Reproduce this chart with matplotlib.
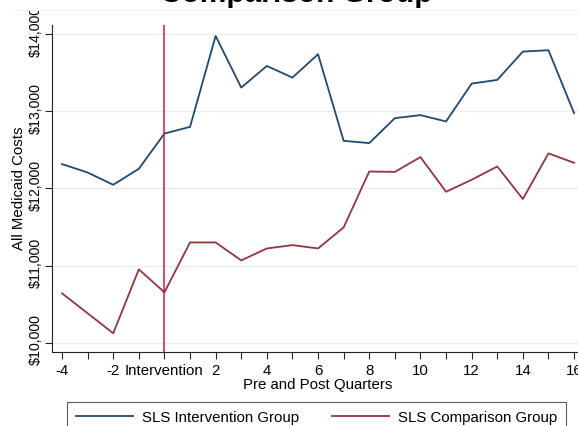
import matplotlib.pyplot as plt
from matplotlib.lines import Line2D
from matplotlib.patches import Rectangle
from matplotlib.transforms import ScaledTranslation

plt.rcParams['font.family'] = ['Liberation Sans', 'DejaVu Sans']

# quarters relative to intervention (0 = intervention quarter)
quarters = list(range(-4, 17))

# average Medicaid costs per quarter
intervention_costs = [12316, 12207, 12048, 12255, 12712, 12799, 13978, 13308,
                      13589, 13438, 13741, 12618, 12588, 12912, 12951, 12869,
                      13360, 13408, 13775, 13793, 12977]
comparison_costs = [10640, 10381, 10122, 10951, 10653, 11300, 11300, 11067,
                    11222, 11265, 11222, 11495, 12220, 12215, 12407, 11957,
                    12113, 12285, 11863, 12455, 12333]

xtick_vals = list(range(-4, 17, 2))
xtick_labels = ["-4", "-2", "Intervention", "2", "4", "6", "8", "10", "12", "14", "16"]
ytick_vals = [10000, 11000, 12000, 13000, 14000]
ytick_labels = ["$10,000", "$11,000", "$12,000", "$13,000", "$14,000"]

W, H = 578, 426
fig = plt.figure(figsize=(W / 100, H / 100), dpi=100)
fig.patch.set_facecolor("white")

# axes box in pixel terms (right side runs past the picture edge)
left_px, right_px, top_px, bottom_px = 52.3, 583.8, 25.0, 351.7
ax = fig.add_axes([left_px / W, 1 - bottom_px / H,
                   (right_px - left_px) / W, (bottom_px - top_px) / H])

navy = "#1f4a73"
maroon = "#93363e"

ax.plot(quarters, intervention_costs, color=navy, lw=1.3,
        label="SLS Intervention Group")
ax.plot(quarters, comparison_costs, color=maroon, lw=1.3,
        label="SLS Comparison Group")
ax.axvline(0, color="#d4173c", lw=1.1)

ax.set_xlim(-4.38, 16.38)
ax.set_ylim(9883, 14120)

ax.set_xticks(xtick_vals)
ax.set_xticklabels(xtick_labels)
ax.set_xticks([q for q in quarters if q % 2], minor=True)
ax.set_yticks(ytick_vals)
ax.set_yticklabels(ytick_labels, rotation=90, va="center")

ax.tick_params(axis="both", which="both", direction="out", length=5,
               width=0.8, color="#222222", labelcolor="black")
ax.tick_params(axis="x", labelsize=10.8, pad=3.5)
ax.tick_params(axis="y", labelsize=10.2, pad=1.5)

# y labels sit a touch above their ticks in the original
for lbl in ax.get_yticklabels():
    lbl.set_transform(lbl.get_transform() + ScaledTranslation(0, 0.03, fig.dpi_scale_trans))

ax.grid(axis="y", color="#e6eef0", lw=0.9)
ax.set_axisbelow(True)

for s in ["top", "right"]:
    ax.spines[s].set_visible(False)
for s in ["left", "bottom"]:
    ax.spines[s].set_color("#222222")
    ax.spines[s].set_linewidth(0.8)

ax.set_xlabel("Pre and Post Quarters", fontsize=10.8, labelpad=0)
ax.set_ylabel("All Medicaid Costs", fontsize=10.8, labelpad=2)

# title band covers the top of the plot area (clips the $14,000 label)
fig.add_artist(Rectangle((0, 1 - 9.5 / H), 1, 9.5 / H, transform=fig.transFigure,
                         facecolor="white", edgecolor="none", zorder=5))
fig.add_artist(Line2D([13 / W, 1.0], [1 - 9.5 / H, 1 - 9.5 / H],
                      transform=fig.transFigure, color="#eef3f4", lw=0.8, zorder=5))

# title mostly cut off at the top of the picture
fig.text(296 / W, 1 - 2.0 / H, "Comparison Group", ha="center", va="baseline",
         fontsize=21.5, fontweight="bold", zorder=6)

leg = fig.legend(loc="upper left", bbox_to_anchor=(66.7 / W, 1 - 401.7 / H),
                 ncol=2, fontsize=10.8, frameon=True, fancybox=False,
                 edgecolor="#333333", handlelength=3.8, handletextpad=0.6,
                 columnspacing=2.2, borderpad=0.6, borderaxespad=0)
leg.get_frame().set_linewidth(0.8)

fig.savefig("out.png", dpi=100)
